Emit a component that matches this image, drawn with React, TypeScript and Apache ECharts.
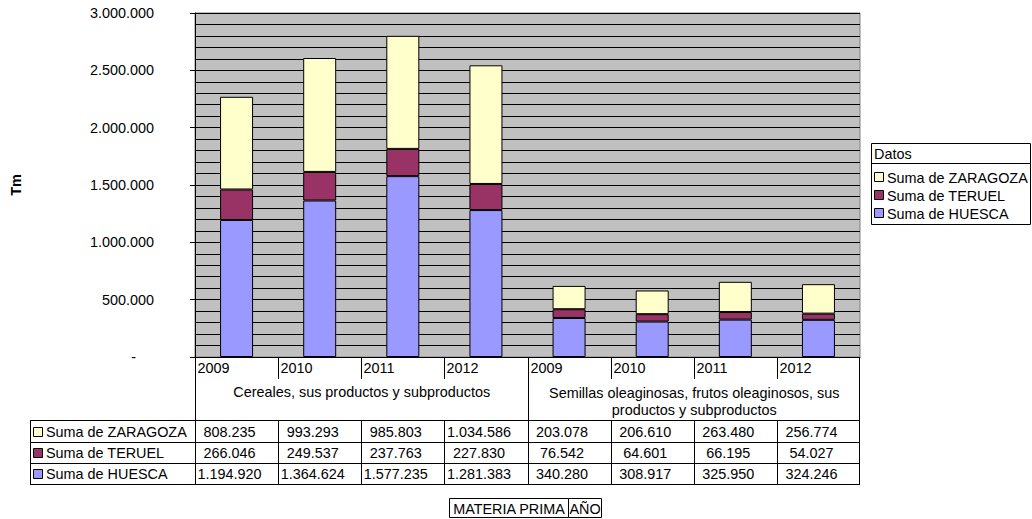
import React, { useEffect, useRef } from "react";
import * as echarts from "echarts";

const years = ["2009", "2010", "2011", "2012", "2009", "2010", "2011", "2012"];
const groups = [
  "Cereales, sus productos y subproductos",
  "Semillas oleaginosas, frutos oleaginosos, sus\nproductos y subproductos",
];
const seriesNames = ["Suma de ZARAGOZA", "Suma de TERUEL", "Suma de HUESCA"];
const zaragoza = [808235, 993293, 985803, 1034586, 203078, 206610, 263480, 256774];
const teruel = [266046, 249537, 237763, 227830, 76542, 64601, 66195, 54027];
const huesca = [1194920, 1364624, 1577235, 1281383, 340280, 308917, 325950, 324246];
const colors = { zaragoza: "#FFFFCC", teruel: "#993366", huesca: "#9999FF" };

const FONT = "Liberation Sans, Arial, sans-serif";
const FS = 14.4;

function fmt(n: number): string {
  return String(n).replace(/\B(?=(\d{3})+(?!\d))/g, ".");
}

export default function App() {
  const ref = useRef<HTMLDivElement>(null);
  useEffect(() => {
    if (!ref.current) return;
    const chart = echarts.init(ref.current, null, { renderer: "svg" });

    const W = 1032;
    const plotL = 195;
    const plotR = 860;
    const plotT = 13;
    const plotB = 357;
    const catW = (plotR - plotL) / years.length;
    const tableL = 30;
    const rowLines = [420, 442, 463, 484];

    const g: any[] = [];
    const line = (x1: number, y1: number, x2: number, y2: number, stroke = "#000") =>
      g.push({
        type: "line",
        silent: true,
        shape: { x1, y1, x2, y2 },
        style: { stroke, lineWidth: 1 },
      });
    const text = (t: string, x: number, y: number, align = "left", extra: any = {}) =>
      g.push({
        type: "text",
        silent: true,
        x,
        y,
        style: {
          text: t,
          fill: "#000",
          font: `${FS}px ${FONT}`,
          textAlign: align,
          textVerticalAlign: "middle",
          ...extra,
        },
      });

    // header area verticals
    const half = Math.round(plotL + catW * 4) + 0.5;
    line(plotL + 0.5, plotB, plotL + 0.5, 484);
    line(half, plotB, half, 484);
    line(plotR - 0.5, plotB, plotR - 0.5, 484, "#000");
    for (let i = 0; i < years.length; i++) {
      const bx = Math.round(plotL + catW * i) + 0.5;
      if (i !== 0 && i !== 4) line(bx, plotB, bx, 379);
      if (i !== 0) line(bx, 420, bx, 484);
      text(years[i], bx + 2, 368);
    }
    // group labels
    text(groups[0], (plotL + half) / 2, 392, "center");
    text(groups[1], (half + plotR) / 2, 384, "center", {
      textVerticalAlign: "top",
      lineHeight: 17,
    });
    // row lines
    rowLines.forEach((y) => line(tableL, y + 0.5, plotR, y + 0.5));
    line(tableL + 0.5, 420, tableL + 0.5, 484);

    const rows = [
      { name: seriesNames[0], data: zaragoza, color: colors.zaragoza },
      { name: seriesNames[1], data: teruel, color: colors.teruel },
      { name: seriesNames[2], data: huesca, color: colors.huesca },
    ];
    rows.forEach((r, ri) => {
      const cy = (rowLines[ri] + rowLines[ri + 1]) / 2 + 0.5;
      g.push({
        type: "rect",
        silent: true,
        shape: { x: 33.5, y: Math.round(cy - 5) + 0.5, width: 9, height: 9 },
        style: { fill: r.color, stroke: "#000", lineWidth: 1 },
      });
      text(r.name, 46, cy);
      r.data.forEach((v, i) => {
        const cx = plotL + catW * (i + 0.5) - 7;
        text(fmt(v), cx, cy, "center");
      });
    });

    // legend box
    const lgX = 871.5;
    const lgY = 143.5;
    g.push({
      type: "rect",
      silent: true,
      shape: { x: lgX, y: lgY, width: 159, height: 81 },
      style: { fill: "#fff", stroke: "#000", lineWidth: 1 },
    });
    line(lgX, 163.5, lgX + 159, 163.5);
    text("Datos", 874, 154);
    const lgYs = [177, 195, 213];
    rows.forEach((r, ri) => {
      g.push({
        type: "rect",
        silent: true,
        shape: { x: 874.5, y: lgYs[ri] - 4.5, width: 9, height: 9 },
        style: { fill: r.color, stroke: "#000", lineWidth: 1 },
      });
      text(r.name, 887, lgYs[ri] + 0.5);
    });

    // y axis title
    g.push({
      type: "text",
      silent: true,
      x: 16,
      y: 185,
      rotation: Math.PI / 2,
      style: {
        text: "Tm",
        fill: "#000",
        font: `bold ${FS}px ${FONT}`,
        textAlign: "center",
        textVerticalAlign: "middle",
      },
    });

    // bottom field buttons
    g.push({
      type: "rect",
      silent: true,
      shape: { x: 449.5, y: 498.5, width: 119, height: 19 },
      style: { fill: "#fff", stroke: "#000", lineWidth: 1 },
    });
    g.push({
      type: "rect",
      silent: true,
      shape: { x: 568.5, y: 498.5, width: 33, height: 19 },
      style: { fill: "#fff", stroke: "#000", lineWidth: 1 },
    });
    text("MATERIA PRIMA", 509, 508.5, "center");
    text("AÑO", 585, 508.5, "center");

    const barStyle = (c: string) => ({ color: c, borderColor: "#000", borderWidth: 1 });

    chart.setOption({
      animation: false,
      backgroundColor: "#fff",
      textStyle: { fontFamily: FONT },
      grid: {
        left: plotL,
        right: W - plotR,
        top: plotT,
        bottom: 519 - plotB,
        show: true,
        backgroundColor: "#C0C0C0",
        borderColor: "#808080",
        borderWidth: 1,
      },
      xAxis: {
        type: "category",
        data: years,
        axisLine: { show: true, lineStyle: { color: "#000", width: 1 } },
        axisTick: { show: false },
        axisLabel: { show: false },
      },
      yAxis: [
        {
          type: "value",
          min: 0,
          max: 3000000,
          interval: 100000,
          axisLine: { show: false },
          axisTick: { show: false },
          axisLabel: { show: false },
          splitLine: { show: true, lineStyle: { color: "#000", width: 1 } },
        },
        {
          type: "value",
          position: "left",
          min: 0,
          max: 3000000,
          interval: 500000,
          axisLine: { show: true, onZero: false, lineStyle: { color: "#000", width: 1 } },
          axisTick: { show: true, length: 5, lineStyle: { color: "#000" } },
          splitLine: { show: false },
          axisLabel: {
            margin: 41,
            color: "#000",
            fontSize: FS,
            fontFamily: FONT,
            formatter: (v: number) => (v === 0 ? "{dash|-}" : fmt(v)),
            rich: { dash: { padding: [0, 18, 0, 0], fontSize: FS, fontFamily: FONT, color: "#000" } },
          },
        },
      ],
      series: [
        {
          name: seriesNames[2],
          type: "bar",
          stack: "t",
          barWidth: 33,
          yAxisIndex: 0,
          data: huesca,
          itemStyle: barStyle(colors.huesca),
        },
        {
          name: seriesNames[1],
          type: "bar",
          stack: "t",
          barWidth: 33,
          yAxisIndex: 0,
          data: teruel,
          itemStyle: barStyle(colors.teruel),
        },
        {
          name: seriesNames[0],
          type: "bar",
          stack: "t",
          barWidth: 33,
          yAxisIndex: 0,
          data: zaragoza,
          itemStyle: barStyle(colors.zaragoza),
        },
      ],
      graphic: g,
    });
    return () => chart.dispose();
  }, []);
  return (
    <div
      ref={ref}
      style={{ position: "fixed", left: 0, top: 0, width: 1032, height: 519 }}
    />
  );
}
